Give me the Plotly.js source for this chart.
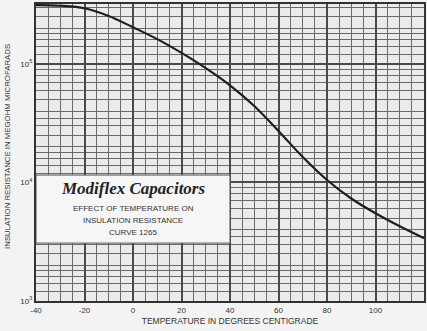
<!DOCTYPE html>
<html>
<head>
<meta charset="utf-8">
<script src="https://cdn.plot.ly/plotly-3.0.1.min.js"></script>
<style>html,body{margin:0;padding:0;background:#f3f3f3;}#chart{width:427px;height:331px;}</style>
</head>
<body>
<div id="chart"></div>
<script>
// Temperature (°C) and insulation resistance (megohm-microfarads)
const temperatures = [-40, -30, -20, -10, 0, 10, 20, 30, 40, 50, 60, 70, 80, 90, 100, 110, 120];
const resistance = [314000, 310000, 295000, 254000, 204000, 162000, 124000, 92300, 66100, 44200, 27200, 16400, 10500, 7330, 5500, 4270, 3390];

const xTickVals = [-40, -20, 0, 20, 40, 60, 80, 100, 120];
const xTickText = ['-40', '-20', '0', '20', '40', '60', '80', '100', '120'];
const yTickVals = [1000, 10000, 100000];
const yTickText = ['10<sup>3</sup>', '10<sup>4</sup>', '10<sup>5</sup>'];
const decades = [1000, 10000, 100000];
const gridMantissas = [1.2, 1.4, 1.6, 1.8, 2, 2.5, 3, 3.5, 4, 5, 6, 7, 8, 9];

const boxTitle = 'Modiflex Capacitors';
const boxLines = ['EFFECT OF TEMPERATURE ON', 'INSULATION RESISTANCE', 'CURVE 1265'];
const xTitle = 'TEMPERATURE IN DEGREES CENTIGRADE';
const yTitle = 'INSULATION RESISTANCE IN MEGOHM MICROFARADS';

const yMinor = [];
decades.forEach(d => gridMantissas.forEach(m => yMinor.push(d * m)));

const gridDark = '#4a4a4a';
const gridLight = '#6a6a6a';
const sans = 'Liberation Sans, Arial, sans-serif';

const trace = {
  x: temperatures,
  y: resistance,
  type: 'scatter',
  mode: 'lines',
  line: {color: '#1e1e1e', width: 2.2, shape: 'spline', smoothing: 1},
  hoverinfo: 'skip'
};

const annFont = {family: sans, size: 8, color: '#333'};
const annotations = [
  {xref: 'x', yref: 'paper', x: 0, y: 0.378, yanchor: 'middle', text: '<b><i>' + boxTitle + '</i></b>', showarrow: false,
   font: {family: 'Liberation Serif, DejaVu Serif, serif', size: 17, color: '#222'}},
  {xref: 'paper', yref: 'paper', x: -0.072, y: 0.519, xanchor: 'center', yanchor: 'middle', textangle: -90,
   text: yTitle, showarrow: false, font: {family: sans, size: 7.8, color: '#333'}}
];
const lineY = [0.312, 0.270, 0.229];
boxLines.forEach((t, i) => annotations.push({xref: 'x', yref: 'paper', x: 0, y: lineY[i], yanchor: 'middle', text: t, showarrow: false, font: annFont}));

const layout = {
  width: 427, height: 331,
  margin: {l: 36, r: 3, t: 4, b: 30},
  paper_bgcolor: '#f3f3f3',
  plot_bgcolor: '#ebebeb',
  showlegend: false,
  xaxis: {
    range: [-40, 120],
    tickmode: 'array', tickvals: xTickVals, ticktext: xTickText,
    showgrid: true, gridcolor: gridDark, gridwidth: 2,
    minor: {dtick: 5, showgrid: true, gridcolor: gridLight, gridwidth: 1},
    showline: true, linecolor: '#333', linewidth: 2, mirror: true,
    ticks: '', zeroline: false,
    tickfont: {family: sans, size: 8, color: '#333'},
    title: {text: xTitle, standoff: 4, font: {family: sans, size: 8.5, color: '#333'}}
  },
  yaxis: {
    type: 'log',
    range: [3, 5.506],
    tickmode: 'array', tickvals: yTickVals, ticktext: yTickText,
    showgrid: true, gridcolor: gridDark, gridwidth: 2,
    minor: {tickmode: 'array', tickvals: yMinor, showgrid: true, gridcolor: gridLight, gridwidth: 1},
    showline: true, linecolor: '#333', linewidth: 2, mirror: true,
    ticks: '', zeroline: false,
    tickfont: {family: sans, size: 8, color: '#333'}
  },
  shapes: [{
    type: 'rect', xref: 'x', yref: 'paper', x0: -40, x1: 40, y0: 0.195, y1: 0.424,
    fillcolor: '#f6f6f6', line: {color: '#555', width: 1}, layer: 'above'
  }],
  annotations: annotations
};

Plotly.newPlot('chart', [trace], layout, {staticPlot: true, displayModeBar: false});
</script>
</body>
</html>
